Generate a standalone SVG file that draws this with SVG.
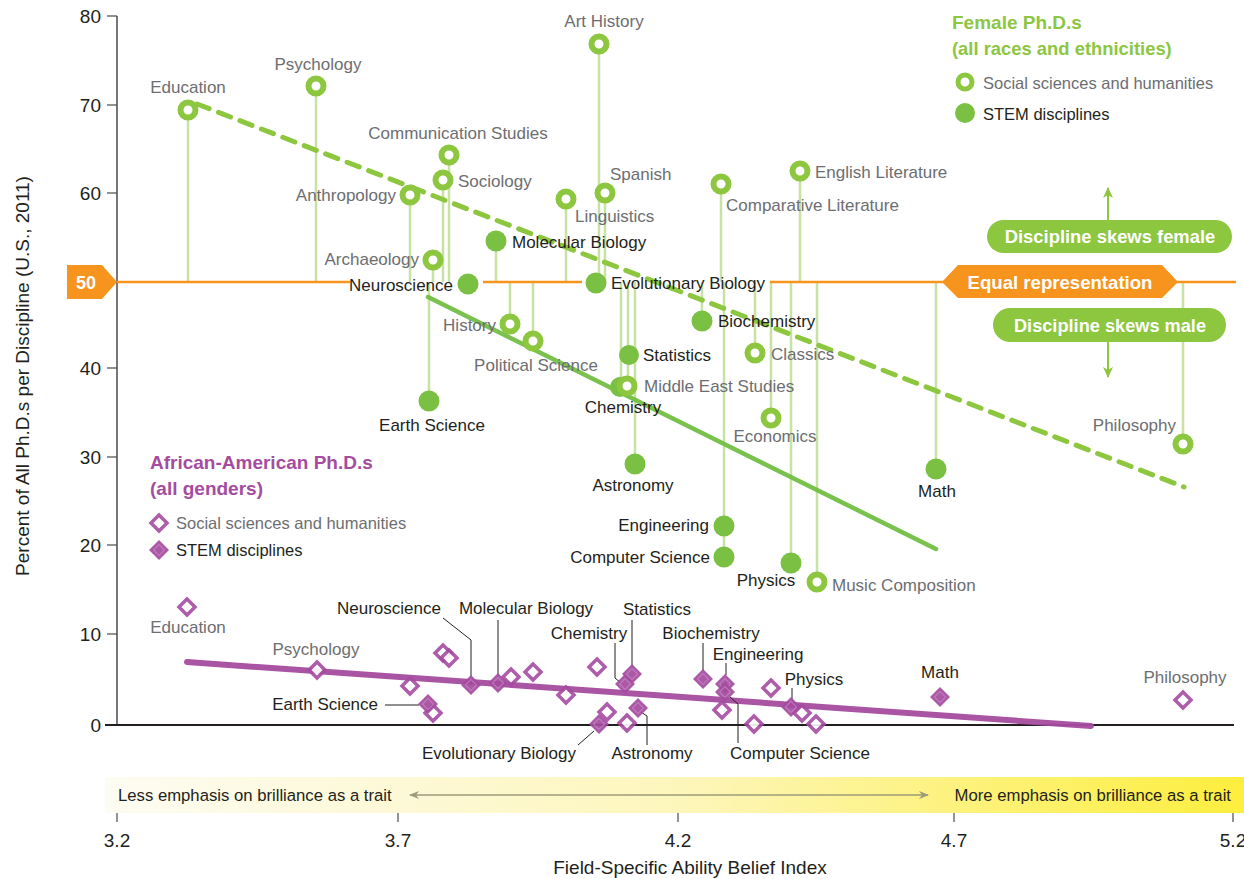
<svg xmlns="http://www.w3.org/2000/svg" xmlns:xlink="http://www.w3.org/1999/xlink" width="1244" height="879" viewBox="0 0 1244 879">
<style>
text{font-family:"Liberation Sans",Arial,sans-serif;font-size:17px}
.g{fill:#6d6e71}
.k{fill:#231f20}
.m{text-anchor:middle}
.e{text-anchor:end}
.b{font-weight:bold}
.w{fill:#ffffff;font-weight:bold}
.tick{font-size:19px;fill:#231f20}
.stem{stroke:#c8e2a4;stroke-width:2.5;fill:none}
.lead{stroke:#231f20;stroke-width:1;fill:none}
.ch{fill:#ffffff;stroke:#8dc63f;stroke-width:6}
.cf{fill:#7ac143}
.dh{fill:#ffffff;stroke:#a54ca0;stroke-width:3.5;stroke-linejoin:miter;opacity:0.9}
.dfi{fill:none;stroke:#d19ccd;stroke-width:0.8}
</style>
<defs>
<linearGradient id="band" x1="0" y1="0" x2="1" y2="0">
<stop offset="0" stop-color="#fdfcf2"/>
<stop offset="0.5" stop-color="#fdf6bc"/>
<stop offset="1" stop-color="#fdee3e"/>
</linearGradient>
<path id="dH" d="M0,-8 L8,0 L0,8 L-8,0 Z"/>
<g id="dF"><path d="M0,-10 L10,0 L0,10 L-10,0 Z" fill="#a54ca0" opacity="0.92"/><path d="M0,-5.5 L5.5,0 L0,5.5 L-5.5,0 Z" class="dfi"/></g>
<marker id="ahL" markerWidth="10" markerHeight="10" refX="1" refY="5" orient="auto" markerUnits="userSpaceOnUse"><path d="M10,1 L0,5 L10,9 L7,5 Z" fill="#9c9b7a"/></marker>
<marker id="ahR" markerWidth="10" markerHeight="10" refX="9" refY="5" orient="auto" markerUnits="userSpaceOnUse"><path d="M0,1 L10,5 L0,9 L3,5 Z" fill="#9c9b7a"/></marker>
<marker id="ahG" markerWidth="12" markerHeight="12" refX="10" refY="6" orient="auto" markerUnits="userSpaceOnUse"><path d="M0,1 L11,6 L0,11 L3,6 Z" fill="#8dc63f"/></marker>
</defs>

<g id="band-axis">
<rect x="105" y="777" width="1139" height="36" fill="url(#band)"/>
<text x="118" y="801" class="k" style="font-size:16.7px">Less emphasis on brilliance as a trait</text>
<text x="1231" y="801" class="k e" style="font-size:16.7px">More emphasis on brilliance as a trait</text>
<line x1="410" y1="795" x2="928" y2="795" stroke="#9c9b7a" stroke-width="1.5" marker-start="url(#ahL)" marker-end="url(#ahR)"/>
</g>

<g id="axes">
<line x1="117" y1="16" x2="117" y2="725" stroke="#4a4a4a" stroke-width="1.5"/>
<line x1="105" y1="725" x2="1234" y2="725" stroke="#231f20" stroke-width="2"/>
<g stroke="#4a4a4a" stroke-width="1.2">
<line x1="107" y1="16" x2="117" y2="16"/><line x1="107" y1="105" x2="117" y2="105"/><line x1="107" y1="193" x2="117" y2="193"/>
<line x1="107" y1="368" x2="117" y2="368"/><line x1="107" y1="457" x2="117" y2="457"/><line x1="107" y1="545" x2="117" y2="545"/><line x1="107" y1="634" x2="117" y2="634"/>
<line x1="117" y1="813" x2="117" y2="822"/><line x1="398" y1="813" x2="398" y2="822"/><line x1="678" y1="813" x2="678" y2="822"/><line x1="954" y1="813" x2="954" y2="822"/><line x1="1233" y1="813" x2="1233" y2="822"/>
</g>
<text x="101" y="23" class="tick e">80</text>
<text x="101" y="112" class="tick e">70</text>
<text x="101" y="200" class="tick e">60</text>
<text x="101" y="375" class="tick e">40</text>
<text x="101" y="464" class="tick e">30</text>
<text x="101" y="552" class="tick e">20</text>
<text x="101" y="641" class="tick e">10</text>
<text x="101" y="732" class="tick e">0</text>
<text x="117" y="847" class="tick m">3.2</text>
<text x="398" y="847" class="tick m">3.7</text>
<text x="678" y="847" class="tick m">4.2</text>
<text x="954" y="847" class="tick m">4.7</text>
<text x="1233" y="847" class="tick m">5.2</text>
<text x="690" y="874" class="k m" style="font-size:19px">Field-Specific Ability Belief Index</text>
<text transform="translate(29,376) rotate(-90)" class="k m" style="font-size:19px">Percent of All Ph.D.s per Discipline (U.S., 2011)</text>
</g>

<g id="connectors">
<g class="stem">
<line x1="188" y1="110" x2="188" y2="282"/>
<line x1="316" y1="86" x2="316" y2="282"/>
<line x1="410" y1="195" x2="410" y2="282"/>
<line x1="433" y1="260" x2="433" y2="282"/>
<line x1="443" y1="180" x2="443" y2="282"/>
<line x1="449" y1="155" x2="449" y2="282"/>
<line x1="496" y1="241" x2="496" y2="282"/>
<line x1="566" y1="199" x2="566" y2="282"/>
<line x1="599" y1="44" x2="599" y2="282"/>
<line x1="605" y1="193" x2="605" y2="282"/>
<line x1="721" y1="184" x2="721" y2="282"/>
<line x1="800" y1="171" x2="800" y2="282"/>
<line x1="429" y1="282" x2="429" y2="401"/>
<line x1="510" y1="282" x2="510" y2="324"/>
<line x1="533" y1="282" x2="533" y2="341"/>
<line x1="621" y1="282" x2="621" y2="387"/>
<line x1="628" y1="282" x2="628" y2="386"/>
<line x1="635" y1="282" x2="635" y2="464"/>
<line x1="702" y1="282" x2="702" y2="321"/>
<line x1="724" y1="282" x2="724" y2="557"/>
<line x1="755" y1="282" x2="755" y2="353"/>
<line x1="771" y1="282" x2="771" y2="418"/>
<line x1="791" y1="282" x2="791" y2="563"/>
<line x1="817" y1="282" x2="817" y2="582"/>
<line x1="936" y1="282" x2="936" y2="469"/>
<line x1="1183" y1="282" x2="1183" y2="444"/>
</g>
<g stroke="#f7941d" stroke-width="2.5">
<line x1="117" y1="282" x2="350" y2="282"/>
<line x1="483" y1="282" x2="582" y2="282"/>
<line x1="770" y1="282" x2="944" y2="282"/>
<line x1="1176" y1="282" x2="1236" y2="282"/>
</g>
<line x1="197" y1="104" x2="1184" y2="487" stroke="#8dc63f" stroke-width="5" stroke-linecap="round" stroke-dasharray="13 10"/>
<line x1="428" y1="297" x2="936" y2="549" stroke="#72bf44" stroke-width="4.5" stroke-linecap="round" opacity="0.95"/>
<line x1="187" y1="662" x2="1091" y2="726" stroke="#a54ca0" stroke-width="6" stroke-linecap="round" opacity="0.95"/>
<g class="lead">
<polyline points="443,618 471,640 471,677"/>
<line x1="498" y1="620" x2="498" y2="675"/>
<polyline points="615,643 615,678 621,683"/>
<line x1="632" y1="620" x2="632" y2="667"/>
<polyline points="641,712 647,716 647,745"/>
<line x1="578" y1="745" x2="594" y2="731"/>
<line x1="703" y1="643" x2="703" y2="671"/>
<line x1="726" y1="663" x2="726" y2="675"/>
<polyline points="730,697 738,704 738,743"/>
<line x1="792" y1="688" x2="792" y2="700"/>
<line x1="385" y1="705" x2="419" y2="705"/>
</g>
<line x1="1108" y1="220" x2="1108" y2="188" stroke="#8dc63f" stroke-width="2" marker-end="url(#ahG)"/>
<line x1="1108" y1="342" x2="1108" y2="377" stroke="#8dc63f" stroke-width="2" marker-end="url(#ahG)"/>
</g>

<g id="label-50">
<path d="M67,265 L102,265 L117,282 L102,299 L67,299 Z" fill="#f7941d"/>
<text x="86" y="289" class="w m" style="font-size:18px">50</text>
</g>
<g id="label-equal">
<path d="M942,282 L958,265 L1162,265 L1178,282 L1162,298 L958,298 Z" fill="#f7941d"/>
<text x="1060" y="289" class="w m" style="font-size:18.6px">Equal representation</text>
</g>
<g id="label-female">
<rect x="987" y="220" width="245" height="33" rx="16.5" fill="#8dc63f"/>
<text x="1110" y="243" class="w m" style="font-size:18.4px">Discipline skews female</text>
</g>
<g id="label-male">
<rect x="993" y="308" width="233" height="34" rx="17" fill="#8dc63f"/>
<text x="1110" y="332" class="w m" style="font-size:18.2px">Discipline skews male</text>
</g>

<g id="legend-female">
<text x="952" y="29" class="b" style="fill:#8dc63f;font-size:19px">Female Ph.D.s</text>
<text x="952" y="55" class="b" style="fill:#8dc63f;font-size:18.4px">(all races and ethnicities)</text>
<circle cx="965" cy="82" r="7" class="ch" style="stroke-width:5"/>
<text x="983" y="89" class="g" style="font-size:16.5px">Social sciences and humanities</text>
<circle cx="965" cy="113" r="10" class="cf"/>
<text x="983" y="120" class="k" style="font-size:16.5px">STEM disciplines</text>
</g>
<g id="legend-aa">
<text x="150" y="469" class="b" style="fill:#a54ca0;font-size:19px">African-American Ph.D.s</text>
<text x="150" y="495" class="b" style="fill:#a54ca0;font-size:19px">(all genders)</text>
<use xlink:href="#dH" x="159" y="523" class="dh"/>
<text x="176" y="529" class="g" style="font-size:16.5px">Social sciences and humanities</text>
<use xlink:href="#dF" x="159" y="550"/>
<text x="176" y="556" class="k" style="font-size:16.5px">STEM disciplines</text>
</g>

<g id="f-chemistry"><circle cx="620" cy="387" r="10" class="cf"/><text x="623" y="413" class="k m">Chemistry</text></g>
<g id="f-education"><circle cx="188" cy="110" r="7.5" class="ch"/><text x="188" y="93" class="g m">Education</text></g>
<g id="f-psychology"><circle cx="316" cy="86" r="7.5" class="ch"/><text x="318" y="70" class="g m">Psychology</text></g>
<g id="f-communication"><circle cx="449" cy="155" r="7.5" class="ch"/><text x="458" y="139" class="g m">Communication Studies</text></g>
<g id="f-sociology"><circle cx="443" cy="180" r="7.5" class="ch"/><text x="458" y="187" class="g">Sociology</text></g>
<g id="f-anthropology"><circle cx="410" cy="195" r="7.5" class="ch"/><text x="396" y="201" class="g e">Anthropology</text></g>
<g id="f-archaeology"><circle cx="433" cy="260" r="7.5" class="ch"/><text x="419" y="265" class="g e">Archaeology</text></g>
<g id="f-neuroscience"><circle cx="468" cy="284" r="10.5" class="cf"/><text x="453" y="291" class="k e">Neuroscience</text></g>
<g id="f-molbio"><circle cx="496" cy="241" r="10.5" class="cf"/><text x="512" y="248" class="k">Molecular Biology</text></g>
<g id="f-history"><circle cx="510" cy="324" r="7.5" class="ch"/><text x="496" y="331" class="g e">History</text></g>
<g id="f-polisci"><circle cx="533" cy="341" r="7.5" class="ch"/><text x="536" y="371" class="g m">Political Science</text></g>
<g id="f-linguistics"><circle cx="566" cy="199" r="7.5" class="ch"/><text x="575" y="222" class="g">Linguistics</text></g>
<g id="f-arthistory"><circle cx="599" cy="44" r="7.5" class="ch"/><text x="604" y="27" class="g m">Art History</text></g>
<g id="f-spanish"><circle cx="605" cy="193" r="7.5" class="ch"/><text x="610" y="180" class="g">Spanish</text></g>
<g id="f-evobio"><circle cx="596" cy="283" r="10.5" class="cf"/><text x="611" y="289" class="k">Evolutionary Biology</text></g>
<g id="f-statistics"><circle cx="629" cy="355" r="10" class="cf"/><text x="643" y="361" class="k">Statistics</text></g>
<g id="f-mideast"><circle cx="627" cy="386" r="7.5" class="ch"/><text x="644" y="392" class="g">Middle East Studies</text></g>
<g id="f-astronomy"><circle cx="635" cy="464" r="10.5" class="cf"/><text x="633" y="491" class="k m">Astronomy</text></g>
<g id="f-complit"><circle cx="721" cy="184" r="7.5" class="ch"/><text x="726" y="211" class="g">Comparative Literature</text></g>
<g id="f-biochem"><circle cx="702" cy="321" r="10.5" class="cf"/><text x="718" y="327" class="k">Biochemistry</text></g>
<g id="f-engineering"><circle cx="724" cy="526" r="10.5" class="cf"/><text x="709" y="531" class="k e">Engineering</text></g>
<g id="f-compsci"><circle cx="724" cy="557" r="10.5" class="cf"/><text x="710" y="563" class="k e">Computer Science</text></g>
<g id="f-classics"><circle cx="755" cy="353" r="7.5" class="ch"/><text x="771" y="360" class="g">Classics</text></g>
<g id="f-economics"><circle cx="771" cy="418" r="7.5" class="ch"/><text x="775" y="442" class="g m">Economics</text></g>
<g id="f-englit"><circle cx="800" cy="171" r="7.5" class="ch"/><text x="815" y="178" class="g">English Literature</text></g>
<g id="f-physics"><circle cx="791" cy="563" r="10.5" class="cf"/><text x="766" y="586" class="k m">Physics</text></g>
<g id="f-music"><circle cx="817" cy="582" r="7.5" class="ch"/><text x="832" y="591" class="g">Music Composition</text></g>
<g id="f-math"><circle cx="936" cy="469" r="10.5" class="cf"/><text x="937" y="497" class="k m">Math</text></g>
<g id="f-philosophy"><circle cx="1183" cy="444" r="7.5" class="ch"/><text x="1176" y="431" class="g e">Philosophy</text></g>
<g id="f-earthsci"><circle cx="429" cy="401" r="10.5" class="cf"/><text x="432" y="431" class="k m">Earth Science</text></g>

<g id="a-hollow">
<use xlink:href="#dH" x="187" y="607" class="dh"/>
<use xlink:href="#dH" x="317" y="670" class="dh"/>
<use xlink:href="#dH" x="410" y="686" class="dh"/>
<use xlink:href="#dH" x="443" y="653" class="dh"/>
<use xlink:href="#dH" x="449" y="658" class="dh"/>
<use xlink:href="#dH" x="433" y="713" class="dh"/>
<use xlink:href="#dH" x="511" y="677" class="dh"/>
<use xlink:href="#dH" x="533" y="672" class="dh"/>
<use xlink:href="#dH" x="566" y="695" class="dh"/>
<use xlink:href="#dH" x="597" y="667" class="dh"/>
<use xlink:href="#dH" x="607" y="712" class="dh"/>
<use xlink:href="#dH" x="627" y="723" class="dh"/>
<use xlink:href="#dH" x="722" y="710" class="dh"/>
<use xlink:href="#dH" x="754" y="724" class="dh"/>
<use xlink:href="#dH" x="771" y="688" class="dh"/>
<use xlink:href="#dH" x="802" y="713" class="dh"/>
<use xlink:href="#dH" x="816" y="724" class="dh"/>
<use xlink:href="#dH" x="1183" y="700" class="dh"/>
</g>
<g id="a-education"><text x="188" y="633" class="g m">Education</text></g>
<g id="a-psychology"><text x="316" y="655" class="g m">Psychology</text></g>
<g id="a-philosophy"><text x="1185" y="683" class="g m">Philosophy</text></g>
<g id="a-earthsci"><use xlink:href="#dF" x="428" y="704"/><text x="378" y="710" class="k e">Earth Science</text></g>
<g id="a-neuroscience"><use xlink:href="#dF" x="471" y="685"/><text x="389" y="614" class="k m">Neuroscience</text></g>
<g id="a-molbio"><use xlink:href="#dF" x="498" y="683"/><text x="526" y="614" class="k m">Molecular Biology</text></g>
<g id="a-evobio"><use xlink:href="#dF" x="599" y="724"/><text x="499" y="759" class="k m">Evolutionary Biology</text></g>
<g id="a-chemistry"><use xlink:href="#dF" x="625" y="684"/><text x="589" y="639" class="k m">Chemistry</text></g>
<g id="a-statistics"><use xlink:href="#dF" x="632" y="674"/><text x="657" y="615" class="k m">Statistics</text></g>
<g id="a-astronomy"><use xlink:href="#dF" x="638" y="708"/><text x="652" y="759" class="k m">Astronomy</text></g>
<g id="a-biochem"><use xlink:href="#dF" x="703" y="679"/><text x="711" y="639" class="k m">Biochemistry</text></g>
<g id="a-engineering"><use xlink:href="#dF" x="725" y="684"/><text x="758" y="660" class="k m">Engineering</text></g>
<g id="a-compsci"><use xlink:href="#dF" x="725" y="692"/><text x="800" y="759" class="k m">Computer Science</text></g>
<g id="a-physics"><use xlink:href="#dF" x="791" y="707"/><text x="814" y="685" class="k m">Physics</text></g>
<g id="a-math"><use xlink:href="#dF" x="940" y="697"/><text x="940" y="678" class="k m">Math</text></g>
</svg>
